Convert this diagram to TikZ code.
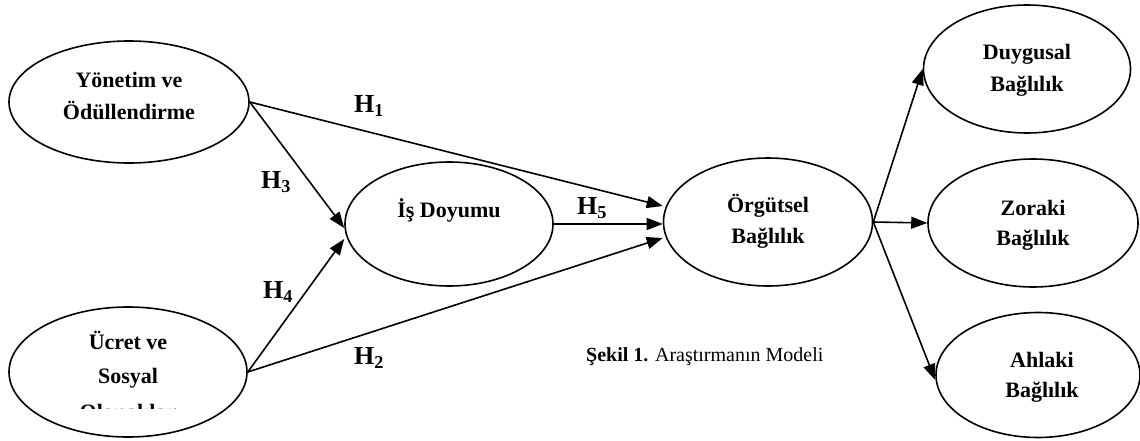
\documentclass[tikz,border=0pt]{standalone}
\usepackage{fontspec}
\setmainfont{Liberation Serif}
\usetikzlibrary{arrows.meta,shapes.geometric,calc}
\begin{document}
\begin{tikzpicture}[x=1pt,y=-1pt,
  ell/.style={draw,ellipse,line width=1.6pt,inner sep=0pt},
  lbl/.style={font=\fontsize{22}{22}\selectfont\bfseries,anchor=base,inner sep=0pt},
  hl/.style={font=\fontsize{26}{26}\selectfont\bfseries,inner sep=0pt},
  arr/.style={line width=1.6pt,-{Triangle[length=16pt,width=12pt]}},
]
\useasboundingbox (0,0) rectangle (1140,441);
\clip (0,0) rectangle (1140,441);
% ellipses
\node[ell,minimum width=240pt,minimum height=122pt] (yon) at (129,102) {};
\node[ell,minimum width=238pt,minimum height=130pt] (ucr) at (128,372) {};
\node[ell,minimum width=208pt,minimum height=124pt] (is)  at (449,224) {};
\node[ell,minimum width=209pt,minimum height=128pt] (org) at (768,222) {};
\node[ell,minimum width=207pt,minimum height=128pt] (duy) at (1027,69) {};
\node[ell,minimum width=210pt,minimum height=128pt] (zor) at (1033,223) {};
\node[ell,minimum width=204pt,minimum height=125pt] (ahl) at (1038,375) {};
% texts
\node[lbl] (yon1) at (129,88) {Yönetim ve};
\node[lbl] (yon2) at (129,120) {Ödüllendirme};
\node[lbl] (ucr1) at (128,349) {Ücret ve};
\node[lbl] (ucr2) at (128,383) {Sosyal};
\begin{scope}
  \clip (0,0) rectangle (260,408);
  \node[lbl] (ucr3) at (128,419) {Olanaklar};
\end{scope}
\node[lbl] (ist) at (449,217) {İş Doyumu};
\node[lbl] (org1) at (768,212) {Örgütsel};
\node[lbl] (org2) at (768,243) {Bağlılık};
\node[lbl] (duy1) at (1027,60) {Duygusal};
\node[lbl] (duy2) at (1027,92) {Bağlılık};
\node[lbl] (zor1) at (1033,215) {Zoraki};
\node[lbl] (zor2) at (1033,245) {Bağlılık};
\node[lbl] (ahl1) at (1042,367) {Ahlaki};
\node[lbl] (ahl2) at (1042,397) {Bağlılık};
% connectors
\draw[arr] (yon.east) -- ($(org.west)+(0,-16)$);
\draw[arr] (yon.east) -- ($(is.west)+(0,4)$);
\draw[arr] (ucr.east) -- ($(is.west)+(0,15)$);
\draw[arr] (ucr.east) -- ($(org.west)+(0,16)$);
\draw[arr] (is.east) -- (is.east -| org.west);
\draw[arr] (org.east) -- (duy.west);
\draw[arr] (org.east) -- (zor.west);
\draw[arr] (org.east) -- ($(ahl.west)+(0,5)$);
% hypothesis labels
\node[hl] (h1) at (369,106) {H\textsubscript{1}};
\node[hl] (h3) at (276,182) {H\textsubscript{3}};
\node[hl] (h4) at (278,292) {H\textsubscript{4}};
\node[hl] (h2) at (369,358) {H\textsubscript{2}};
\node[hl] (h5) at (592,208) {H\textsubscript{5}};
% caption
\node[font=\fontsize{20}{20}\selectfont,anchor=west,inner sep=0pt] (cap) at (586,357) {\textbf{Şekil 1.} Araştırmanın Modeli};
\end{tikzpicture}
\end{document}
